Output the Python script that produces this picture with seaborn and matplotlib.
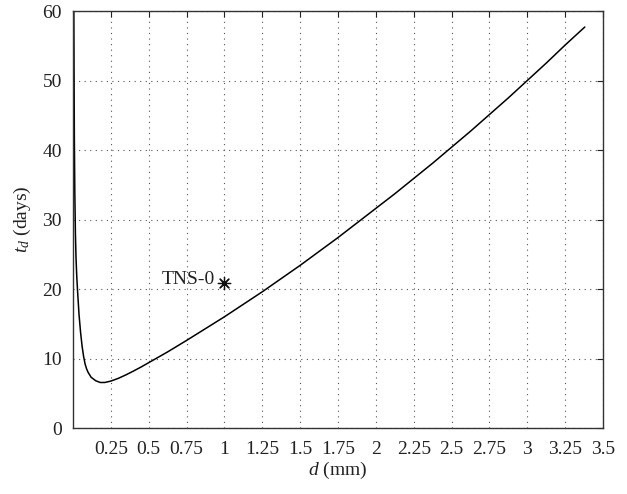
import matplotlib
matplotlib.use("Agg")
import matplotlib.pyplot as plt
import seaborn as sns
import pandas as pd

# Data
d_mm = [0.0055, 0.007, 0.009, 0.012, 0.016, 0.02, 0.025, 0.03, 0.04, 0.05,
        0.06, 0.07, 0.08, 0.09, 0.1, 0.12, 0.15, 0.18, 0.21, 0.25, 0.3,
        0.35, 0.4, 0.45, 0.5, 0.625, 0.75, 0.875, 1.0, 1.125, 1.25, 1.375,
        1.5, 1.625, 1.75, 1.875, 2.0, 2.125, 2.25, 2.375, 2.5, 2.625, 2.75,
        2.875, 3.0, 3.125, 3.25, 3.38]
t_days = [60, 52, 42, 34, 28, 24.5, 21.8, 19.8, 16.3, 13.8,
          11.8, 10.3, 9.2, 8.5, 8.0, 7.3, 6.8, 6.55, 6.55, 6.75, 7.15,
          7.65, 8.2, 8.78, 9.4, 10.95, 12.6, 14.3, 16.0, 17.8, 19.6, 21.5,
          23.4, 25.4, 27.4, 29.5, 31.6, 33.7, 35.9, 38.1, 40.4, 42.7, 45.1,
          47.5, 50.0, 52.5, 55.1, 57.7]
point_x = [1.0]
point_y = [20.9]
point_label = ["TNS-0"]
x_ticks = [0.25, 0.5, 0.75, 1, 1.25, 1.5, 1.75, 2, 2.25, 2.5, 2.75, 3, 3.25, 3.5]
x_tick_labels = ["0.25", "0.5", "0.75", "1", "1.25", "1.5", "1.75", "2",
                 "2.25", "2.5", "2.75", "3", "3.25", "3.5"]
y_ticks = [0, 10, 20, 30, 40, 50, 60]

sns.set_style("white")
plt.rcParams['font.family'] = ['Liberation Serif', 'DejaVu Serif']
plt.rcParams['mathtext.fontset'] = 'custom'
plt.rcParams['mathtext.it'] = 'Liberation Serif:italic'
plt.rcParams['mathtext.rm'] = 'Liberation Serif'

fig = plt.figure(figsize=(6.27, 4.94), dpi=100)
ax = fig.add_axes([0.1164, 0.1336, 0.8453, 0.8441])

df = pd.DataFrame({"d": d_mm, "t": t_days})
sns.lineplot(data=df, x="d", y="t", sort=False, estimator=None,
             color="black", linewidth=1.1, ax=ax)
pts = pd.DataFrame({"x": point_x, "y": point_y})
sns.scatterplot(data=pts, x="x", y="y", marker=(8, 2, 0), s=80,
                color="#111111", edgecolor="#111111", linewidth=0.9, ax=ax, zorder=5)
for x, y, lab in zip(point_x, point_y, point_label):
    ax.text(x - 0.06, y + 0.4, lab, ha="right", va="center", fontsize=14,
            color="#222222")

ax.set_xlim(0, 3.5)
ax.set_ylim(0, 60)
ax.set_xticks(x_ticks)
ax.set_xticklabels(x_tick_labels)
ax.set_yticks(y_ticks)
ax.grid(True, linestyle=(0, (1, 4)), color="#555555", linewidth=0.8)
ax.tick_params(direction="in", length=4, width=0.8, top=True, right=True,
               labelsize=14, colors="#222222")
ax.tick_params(axis="x", pad=9)
ax.tick_params(axis="y", pad=8)
for sp in ax.spines.values():
    sp.set_visible(True)
    sp.set_color("#333333")
    sp.set_linewidth(1.0)

ax.set_xlabel("$d$ (mm)", fontsize=14, color="#222222", labelpad=2)
ax.set_ylabel("$t_d$ (days)", fontsize=14, color="#222222", labelpad=7)

fig.savefig("out.png", dpi=100)
